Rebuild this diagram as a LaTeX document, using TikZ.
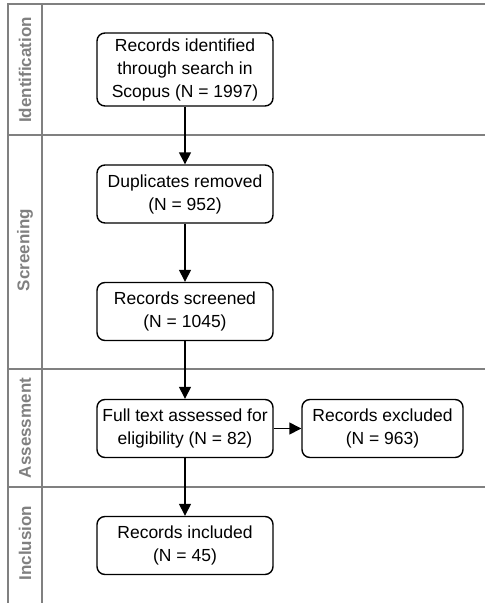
\documentclass[tikz,border=0pt]{standalone}
\usepackage{fontspec}
\setmainfont{Liberation Sans}
\usepackage{xcolor}
\usetikzlibrary{arrows.meta}

\definecolor{lanegray}{HTML}{808080}

\tikzset{
  stagebox/.style={draw=black, line width=1.4pt, rounded corners=8pt,
    align=center, inner sep=0pt, minimum width=176pt, minimum height=58pt,
    font=\fontsize{17.5}{23}\selectfont},
  lanelabel/.style={rotate=90, text=lanegray, font=\fontsize{17}{20}\selectfont\bfseries},
  lane/.style={draw=lanegray, line width=1.8pt},
  flow/.style={-{Triangle[length=12pt,width=12pt]}, line width=1.4pt}
}

\begin{document}
\begin{tikzpicture}[x=1pt,y=-1pt]
  \useasboundingbox (0,0) rectangle (485,603);
  % lanes
  \draw[lane] (485,4) -- (8,4) -- (8,603);
  \draw[lane] (42,4) -- (42,603);
  \draw[lane] (8,135) -- (485,135);
  \draw[lane] (8,369) -- (485,369);
  \draw[lane] (8,487) -- (485,487);
  \node[lanelabel] (lident) at (25,70) {Identification};
  \node[lanelabel] (lscreen) at (25,250) {Screening};
  \node[lanelabel] (lassess) at (25,428) {Assessment};
  \node[lanelabel] (lincl) at (25,543) {Inclusion};
  % boxes
  \node[stagebox, minimum height=73pt] (ident) at (185,69.5) {Records identified\\through search in\\Scopus (N = 1997)};
  \node[stagebox] (dupl) at (185,194) {Duplicates removed\\(N = 952)};
  \node[stagebox] (screen) at (185,311.5) {Records screened\\(N = 1045)};
  \node[stagebox] (full) at (185,428.5) {Full text assessed for\\eligibility (N = 82)};
  \node[stagebox, minimum width=161pt] (excl) at (382.5,428.5) {Records excluded\\(N = 963)};
  \node[stagebox] (incl) at (185,545.5) {Records included\\(N = 45)};
  % arrows
  \draw[flow] (ident) -- (dupl);
  \draw[flow] (dupl) -- (screen);
  \draw[flow] (screen) -- (full);
  \draw[flow] (full) -- (excl);
  \draw[flow] (full) -- (incl);
\end{tikzpicture}
\end{document}
